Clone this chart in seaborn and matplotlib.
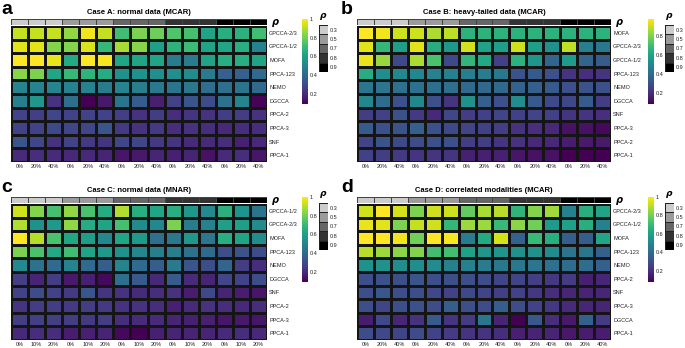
import matplotlib
matplotlib.use("Agg")
import matplotlib.pyplot as plt
from matplotlib.colors import ListedColormap
import numpy as np
import pandas as pd
import seaborn as sns

# rho levels (column groups) and missing rates
rho_levels = ["0.3", "0.5", "0.7", "0.8", "0.9"]
rho_greys = ["#cccccc", "#9b9b9b", "#666666", "#333333", "#000000"]
miss_ab = ["0%", "20%", "40%"]
miss_c = ["0%", "10%", "20%"]

titles = ["Case A: normal data (MCAR)", "Case B: heavy-tailed data (MCAR)",
          "Case C: normal data (MNAR)", "Case D: correlated modalities (MCAR)"]
letters = ["a", "b", "c", "d"]

rows_a = ["GPCCA-2/3", "GPCCA-1/2", "MOFA", "PPCA-123", "NEMO", "DGCCA",
          "PPCA-2", "PPCA-3", "SNF", "PPCA-1"]
vals_a = [
    [0.92, 0.92, 0.92, 0.85, 0.98, 0.92, 0.72, 0.82, 0.80, 0.75, 0.73, 0.62, 0.66, 0.67, 0.72],
    [0.96, 0.96, 0.83, 0.83, 0.95, 0.70, 0.88, 0.84, 0.60, 0.68, 0.71, 0.62, 0.63, 0.66, 0.49],
    [1.00, 1.00, 0.97, 0.64, 1.00, 0.99, 0.63, 0.63, 0.63, 0.47, 0.47, 0.62, 0.66, 0.66, 0.62],
    [0.84, 0.82, 0.63, 0.70, 0.68, 0.65, 0.55, 0.55, 0.54, 0.54, 0.53, 0.47, 0.37, 0.37, 0.40],
    [0.50, 0.50, 0.50, 0.49, 0.49, 0.47, 0.50, 0.48, 0.46, 0.44, 0.45, 0.42, 0.42, 0.44, 0.40],
    [0.48, 0.57, 0.22, 0.42, 0.09, 0.15, 0.44, 0.35, 0.17, 0.27, 0.33, 0.30, 0.43, 0.50, 0.10],
    [0.27, 0.26, 0.28, 0.27, 0.27, 0.27, 0.26, 0.22, 0.25, 0.21, 0.23, 0.22, 0.25, 0.25, 0.22],
    [0.27, 0.27, 0.29, 0.28, 0.28, 0.33, 0.24, 0.22, 0.24, 0.21, 0.22, 0.21, 0.19, 0.21, 0.21],
    [0.33, 0.28, 0.22, 0.27, 0.24, 0.23, 0.28, 0.28, 0.24, 0.23, 0.20, 0.20, 0.21, 0.17, 0.19],
    [0.20, 0.21, 0.20, 0.19, 0.19, 0.18, 0.14, 0.15, 0.18, 0.17, 0.18, 0.13, 0.20, 0.21, 0.14],
]

rows_b = ["MOFA", "GPCCA-2/3", "GPCCA-1/2", "PPCA-123", "NEMO", "DGCCA",
          "SNF", "PPCA-3", "PPCA-2", "PPCA-1"]
vals_b = [
    [0.98, 0.96, 0.91, 0.91, 0.87, 0.89, 0.66, 0.66, 0.66, 0.66, 0.66, 0.66, 0.66, 0.66, 0.66],
    [0.94, 0.68, 0.58, 0.94, 0.64, 0.56, 0.92, 0.60, 0.58, 0.91, 0.58, 0.53, 0.89, 0.46, 0.44],
    [0.95, 0.84, 0.28, 0.87, 0.72, 0.28, 0.67, 0.62, 0.25, 0.66, 0.55, 0.37, 0.57, 0.37, 0.34],
    [0.64, 0.52, 0.50, 0.50, 0.48, 0.47, 0.46, 0.45, 0.44, 0.31, 0.33, 0.30, 0.22, 0.20, 0.22],
    [0.43, 0.43, 0.42, 0.42, 0.41, 0.40, 0.39, 0.38, 0.38, 0.36, 0.35, 0.33, 0.30, 0.31, 0.30],
    [0.50, 0.39, 0.30, 0.50, 0.30, 0.22, 0.53, 0.35, 0.30, 0.52, 0.33, 0.28, 0.27, 0.34, 0.24],
    [0.24, 0.25, 0.31, 0.23, 0.18, 0.27, 0.24, 0.25, 0.26, 0.25, 0.26, 0.25, 0.22, 0.22, 0.20],
    [0.34, 0.30, 0.31, 0.35, 0.30, 0.28, 0.26, 0.25, 0.24, 0.21, 0.20, 0.18, 0.12, 0.12, 0.10],
    [0.26, 0.31, 0.28, 0.29, 0.30, 0.30, 0.24, 0.24, 0.22, 0.21, 0.18, 0.18, 0.15, 0.14, 0.14],
    [0.25, 0.24, 0.23, 0.22, 0.22, 0.22, 0.16, 0.16, 0.16, 0.13, 0.12, 0.12, 0.08, 0.08, 0.08],
]

rows_c = ["GPCCA-1/2", "GPCCA-2/3", "MOFA", "PPCA-123", "NEMO", "DGCCA",
          "SNF", "PPCA-2", "PPCA-3", "PPCA-1"]
vals_c = [
    [0.93, 0.83, 0.73, 0.85, 0.74, 0.65, 0.89, 0.66, 0.63, 0.66, 0.57, 0.52, 0.67, 0.56, 0.44],
    [0.89, 0.55, 0.58, 0.85, 0.65, 0.62, 0.73, 0.53, 0.51, 0.82, 0.47, 0.49, 0.60, 0.60, 0.53],
    [1.00, 0.90, 0.74, 0.63, 0.60, 0.51, 0.63, 0.58, 0.42, 0.45, 0.57, 0.45, 0.66, 0.62, 0.53],
    [0.82, 0.74, 0.64, 0.72, 0.62, 0.58, 0.55, 0.51, 0.48, 0.48, 0.43, 0.40, 0.31, 0.32, 0.30],
    [0.52, 0.43, 0.40, 0.50, 0.40, 0.36, 0.50, 0.40, 0.36, 0.46, 0.33, 0.30, 0.38, 0.25, 0.21],
    [0.26, 0.18, 0.25, 0.15, 0.17, 0.11, 0.42, 0.34, 0.19, 0.35, 0.20, 0.18, 0.28, 0.27, 0.30],
    [0.27, 0.30, 0.27, 0.24, 0.33, 0.23, 0.22, 0.20, 0.21, 0.22, 0.16, 0.29, 0.18, 0.16, 0.14],
    [0.23, 0.25, 0.25, 0.24, 0.25, 0.24, 0.22, 0.22, 0.21, 0.17, 0.20, 0.22, 0.21, 0.19, 0.21],
    [0.25, 0.26, 0.26, 0.25, 0.24, 0.25, 0.21, 0.20, 0.20, 0.18, 0.17, 0.17, 0.14, 0.15, 0.14],
    [0.19, 0.21, 0.21, 0.16, 0.17, 0.18, 0.11, 0.09, 0.17, 0.18, 0.18, 0.18, 0.20, 0.21, 0.19],
]

rows_d = ["GPCCA-2/3", "GPCCA-1/2", "MOFA", "PPCA-123", "NEMO", "PPCA-2",
          "SNF", "PPCA-3", "DGCCA", "PPCA-1"]
vals_d = [
    [0.93, 1.00, 0.94, 0.82, 0.93, 0.93, 0.78, 0.88, 0.90, 0.68, 0.83, 0.87, 0.48, 0.66, 0.62],
    [0.97, 0.96, 0.82, 0.92, 0.93, 0.69, 0.86, 0.86, 0.70, 0.84, 0.80, 0.58, 0.60, 0.66, 0.48],
    [1.00, 1.00, 0.98, 0.80, 1.00, 0.99, 0.46, 0.64, 0.94, 0.37, 0.70, 0.66, 0.35, 0.35, 0.62],
    [0.90, 0.86, 0.84, 0.83, 0.72, 0.72, 0.60, 0.56, 0.56, 0.55, 0.54, 0.52, 0.44, 0.44, 0.36],
    [0.55, 0.54, 0.53, 0.53, 0.52, 0.48, 0.48, 0.46, 0.45, 0.45, 0.44, 0.42, 0.40, 0.40, 0.36],
    [0.30, 0.31, 0.30, 0.32, 0.30, 0.30, 0.30, 0.29, 0.27, 0.27, 0.25, 0.23, 0.24, 0.16, 0.18],
    [0.30, 0.33, 0.30, 0.30, 0.28, 0.26, 0.28, 0.27, 0.25, 0.26, 0.23, 0.20, 0.18, 0.17, 0.18],
    [0.30, 0.27, 0.30, 0.31, 0.29, 0.35, 0.30, 0.29, 0.35, 0.29, 0.26, 0.23, 0.19, 0.18, 0.17],
    [0.15, 0.28, 0.18, 0.21, 0.34, 0.22, 0.24, 0.44, 0.17, 0.08, 0.33, 0.20, 0.14, 0.36, 0.24],
    [0.29, 0.28, 0.27, 0.29, 0.26, 0.24, 0.22, 0.22, 0.20, 0.16, 0.17, 0.17, 0.14, 0.15, 0.15],
]

W, H = 685, 348
plt.rcParams["font.family"] = ["Liberation Sans", "DejaVu Sans"]
fig = plt.figure(figsize=(W / 100, H / 100), dpi=100)


def box(x0, y0, x1, y1):
    # pixel box (top-left origin) -> figure fraction
    return [x0 / W, 1 - y1 / H, (x1 - x0) / W, (y1 - y0) / H]


def panel(vals, rows, miss, title, letter, x0, x1, y0, cx):
    # y0 = top of the rho bar, in pixels
    df = pd.DataFrame(vals, index=rows)
    ncol = df.shape[1]
    xlabels = miss * len(rho_levels)

    # main heatmap
    ax = fig.add_axes(box(x0, y0 + 7, x1, y0 + 143))
    cax = fig.add_axes(box(cx, y0, cx + 6, y0 + 85))
    sns.heatmap(df, ax=ax, cmap="viridis", vmin=df.values.min(), vmax=df.values.max(),
                linewidths=1.0, linecolor="#151515", cbar_ax=cax,
                xticklabels=xlabels, yticklabels=rows)
    ax.yaxis.tick_right()
    ax.tick_params(length=0, labelsize=4, pad=1.5, colors="#222222")
    ax.tick_params(axis="y", labelrotation=0)
    ax.tick_params(axis="x", labelrotation=0)
    ax.set_xlabel("")
    ax.set_ylabel("")

    cb = ax.collections[0].colorbar
    cb.outline.set_visible(False)
    ticks = [t for t in [0.2, 0.4, 0.6, 0.8, 1.0]
             if df.values.min() <= t <= df.values.max() + 0.005]
    cb.set_ticks(ticks)
    cb.set_ticklabels([f"{t:g}" for t in ticks])
    cax.tick_params(length=0, labelsize=4, pad=1.5, colors="#222222")

    # rho annotation bar
    bax = fig.add_axes(box(x0, y0, x1, y0 + 6))
    groups = np.repeat(np.arange(len(rho_levels)), ncol // len(rho_levels))
    sns.heatmap(groups.reshape(1, -1), ax=bax, cmap=ListedColormap(rho_greys),
                vmin=-0.5, vmax=len(rho_levels) - 0.5, cbar=False,
                linewidths=0.6, linecolor="#444444", xticklabels=False, yticklabels=False)
    fig.text((x1 + 5) / W, 1 - (y0 + 3) / H, "ρ", fontsize=7, fontweight="bold",
             fontstyle="italic", ha="left", va="center", family="DejaVu Sans")

    # rho legend
    lax = fig.add_axes(box(cx + 17, y0 + 6, cx + 26, y0 + 53))
    sns.heatmap(np.arange(len(rho_levels)).reshape(-1, 1), ax=lax,
                cmap=ListedColormap(rho_greys), vmin=-0.5, vmax=len(rho_levels) - 0.5,
                cbar=False, linewidths=0.5, linecolor="#222222",
                xticklabels=False, yticklabels=rho_levels)
    lax.yaxis.tick_right()
    lax.tick_params(length=0, labelsize=4, pad=1.5, colors="#222222", labelrotation=0)
    fig.text((cx + 21.5) / W, 1 - (y0 - 3) / H, "ρ", fontsize=6.5, fontweight="bold",
             fontstyle="italic", ha="center", va="center", family="DejaVu Sans")

    # title and panel letter
    fig.text((x0 + x1) / 2 / W, 1 - (y0 - 6) / H, title, fontsize=5.5,
             fontweight="bold", ha="center", va="center")
    lx = 1 if x0 < 100 else 341
    fig.text(lx / W, 1 - (y0 - 5) / H, letter, fontsize=14, fontweight="bold",
             ha="left", va="baseline")


panel(vals_a, rows_a, miss_ab, titles[0], letters[0], 11, 267, 19, 302)
panel(vals_b, rows_b, miss_ab, titles[1], letters[1], 357, 611, 19, 648)
panel(vals_c, rows_c, miss_c, titles[2], letters[2], 11, 267, 197, 302)
panel(vals_d, rows_d, miss_ab, titles[3], letters[3], 357, 611, 197, 648)

fig.savefig("out.png", dpi=100)
